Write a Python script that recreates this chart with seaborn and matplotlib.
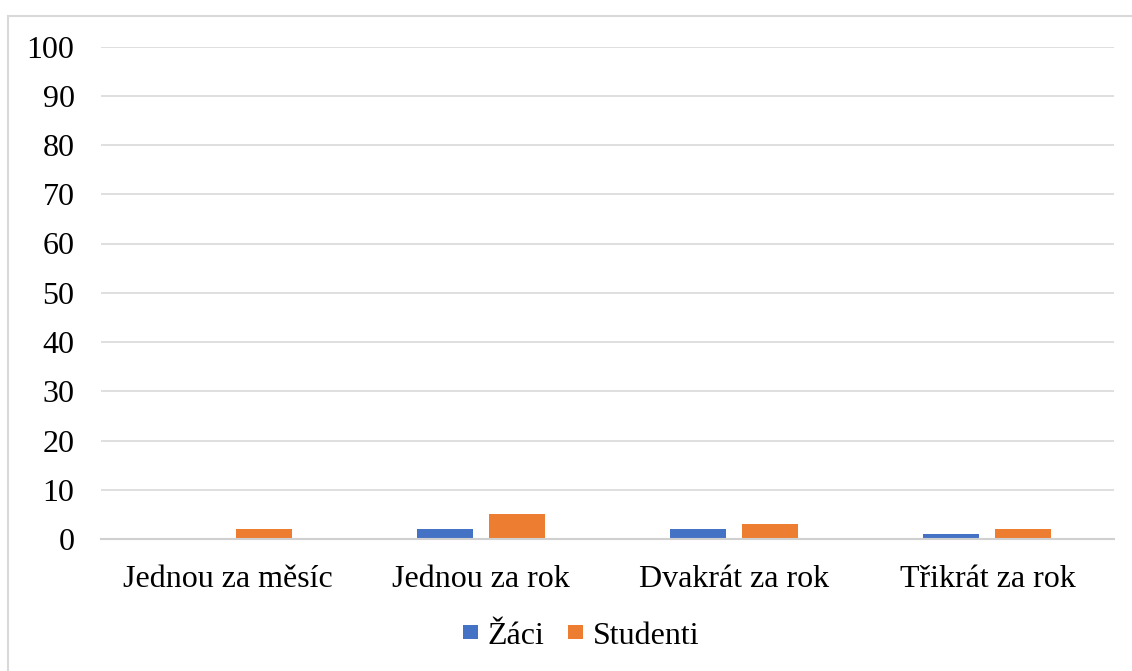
import matplotlib
matplotlib.use("Agg")
import matplotlib.pyplot as plt
import seaborn as sns
import pandas as pd
from matplotlib.patches import Rectangle

categories = ["Jednou za měsíc", "Jednou za rok", "Dvakrát za rok", "Třikrát za rok"]
zaci = [0, 2, 2, 1]
studenti = [2, 5, 3, 2]
series_names = ["Žáci", "Studenti"]
colors = ["#4472C4", "#ED7D31"]
yticks = list(range(0, 101, 10))

df = pd.DataFrame({
    "cat": categories * 2,
    "val": zaci + studenti,
    "series": [series_names[0]] * 4 + [series_names[1]] * 4,
})

sns.set_theme(style="white")
plt.rcParams["font.family"] = ["Liberation Serif", "DejaVu Serif"]
plt.rcParams["text.color"] = "black"
plt.rcParams["xtick.color"] = "black"
plt.rcParams["ytick.color"] = "black"

FS = 23
W, H = 1132, 671
fig = plt.figure(figsize=(W / 100, H / 100), dpi=100)
ax = fig.add_axes([101 / W, 1 - 539 / H, (1114 - 101) / W, (539 - 46.5) / H])

sns.barplot(data=df, x="cat", y="val", hue="series", order=categories,
            hue_order=series_names, palette=colors, width=0.569, gap=0.22,
            ax=ax, legend=True, saturation=1, edgecolor="none")

ax.set_ylim(0, 100)
ax.set_yticks(yticks)
ax.set_yticklabels([str(t) for t in yticks], fontsize=FS, color="black")
ax.tick_params(axis="x", labelsize=FS, pad=19, length=0, labelcolor="black")
ax.tick_params(axis="y", pad=19, length=0, labelcolor="black")
ax.set_xlim(-0.5, 3.5)
ax.set_xlabel("")
ax.set_ylabel("")
ax.yaxis.grid(True, color="#d9d9d9", linewidth=1.2)
ax.set_axisbelow(True)
for s in ["top", "right", "left"]:
    ax.spines[s].set_visible(False)
ax.spines["bottom"].set_color("#d0d0d0")
ax.spines["bottom"].set_linewidth(1.5)

leg = ax.legend(loc="center", bbox_to_anchor=(581 / W, 1 - 636 / H),
                bbox_transform=fig.transFigure, ncol=2, frameon=False, fontsize=FS,
                handlelength=0.46, handleheight=0.3, handletextpad=0.3, columnspacing=0.75)
for t in leg.get_texts():
    t.set_color("black")

fig.patches.append(Rectangle((8 / W, -0.1), 2, 1 - 16 / H + 0.1, transform=fig.transFigure,
                             fill=False, edgecolor="#d9d9d9", linewidth=1.5))

fig.savefig("out.png", dpi=100)
